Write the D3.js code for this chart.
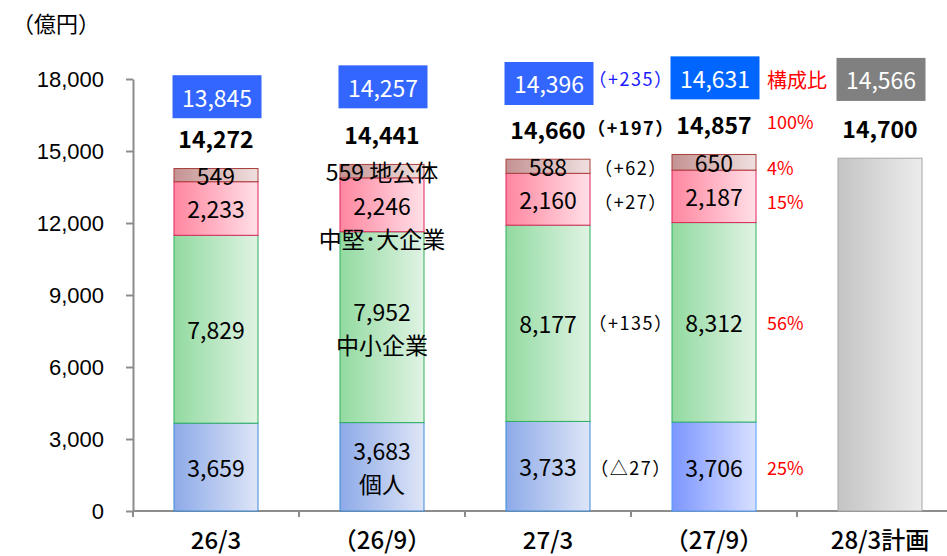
<!DOCTYPE html>
<meta charset="utf-8">
<style>
body { margin: 0; background: #fff; }
text { font-family: "Noto Sans CJK JP", "Noto Sans", sans-serif; }
.yaxis text { font-family: "Liberation Sans", Arial, sans-serif; font-size: 22px; fill: #000; }
.yaxis path, .yaxis line, .xaxis line { stroke: #8c8c8c; stroke-width: 2; }
</style>
<svg id="chart" width="947" height="556"></svg>
<script src="https://d3js.org/d3.v7.min.js"></script>
<script>

// data
const categories = ["26/3", "（26/9）", "27/3", "（27/9）", "28/3計画"];
const seriesNames = ["個人", "中小企業", "中堅･大企業", "地公体"];
const kojin  = [3659, 3683, 3733, 3706];
const chusho = [7829, 7952, 8177, 8312];
const chuken = [2233, 2246, 2160, 2187];
const chikou = [549, 559, 588, 650];
const totals = [14272, 14441, 14660, 14857, 14700];
const boxValues = [13845, 14257, 14396, 14631, 14566];
const yTicks = [0, 3000, 6000, 9000, 12000, 15000, 18000];

var rows = categories.slice(0, 4).map(function(c, i) {
  var r = { cat: c };
  r[seriesNames[0]] = kojin[i];
  r[seriesNames[1]] = chusho[i];
  r[seriesNames[2]] = chuken[i];
  r[seriesNames[3]] = chikou[i];
  return r;
});

var svg = d3.select("#chart");

var x = d3.scaleBand()
    .domain(categories)
    .range([133, 963])
    .paddingInner(0.494)
    .paddingOuter(0.247);

var y = d3.scaleLinear()
    .domain([0, 18000])
    .range([511, 79]);

var fmt = d3.format(",");

// gradients (left dark -> right light), last entry is the border
var fills = {
  s0:   ["rgb(141,170,232)", "rgb(222,229,247)", "#3b8ad6"],
  s1:   ["rgb(146,218,160)", "rgb(224,243,228)", "#2faf5c"],
  s2:   ["rgb(255,134,160)", "rgb(255,224,231)", "#e0245e"],
  s3:   ["rgb(196,146,146)", "rgb(240,224,224)", "#a8403c"],
  hl:   ["rgb(124,150,255)", "rgb(216,224,255)", "#4b9bff"],
  plan: ["rgb(196,196,196)", "rgb(236,236,236)", "#a6a6a6"]
};
var defs = svg.append("defs");
Object.keys(fills).forEach(function(k, i) {
  var g = defs.append("linearGradient").attr("id", "g" + i)
      .attr("x1", 0).attr("x2", 1).attr("y1", 0).attr("y2", 0);
  g.append("stop").attr("offset", "0%").attr("stop-color", fills[k][0]);
  g.append("stop").attr("offset", "100%").attr("stop-color", fills[k][1]);
  fills[k].id = "url(#g" + i + ")";
});

// axes
svg.append("g")
    .attr("class", "yaxis")
    .attr("transform", "translate(133,0)")
    .call(d3.axisLeft(y).tickValues(yTicks).tickFormat(fmt).tickSize(7).tickSizeOuter(0).tickPadding(22));

svg.append("line")
    .attr("x1", 133).attr("x2", 947).attr("y1", y(0)).attr("y2", y(0))
    .attr("stroke", "#8c8c8c").attr("stroke-width", 2);

var half = x.step() * x.paddingInner() / 2;
var bounds = categories.map(function(c) { return x(c) - half; });
svg.append("g").attr("class", "xaxis")
  .selectAll("line")
  .data(bounds)
  .enter().append("line")
    .attr("x1", function(d) { return d; })
    .attr("x2", function(d) { return d; })
    .attr("y1", y(0))
    .attr("y2", y(0) + 6);

svg.append("g")
  .selectAll("text")
  .data(categories)
  .enter().append("text")
    .attr("x", function(d) { return x(d) + x.bandwidth() / 2; })
    .attr("y", 549)
    .attr("text-anchor", "middle")
    .attr("font-size", 24)
    .attr("font-weight", 500)
    .text(function(d) { return d; });

svg.append("text")
    .attr("x", 12).attr("y", 32)
    .attr("font-size", 22)
    .text("（億円）");

// stacked bars
var stacked = d3.stack().keys(seriesNames)(rows);

var layer = svg.append("g")
  .selectAll("g")
  .data(stacked)
  .enter().append("g");

function style(d) {
  return (d.key === seriesNames[0] && d.data.cat === categories[3]) ? fills.hl : fills["s" + d.idx];
}

layer.selectAll("rect")
  .data(function(d, k) { return d.map(function(p) { p.key = d.key; p.idx = k; return p; }); })
  .enter().append("rect")
    .attr("x", function(d) { return x(d.data.cat); })
    .attr("width", x.bandwidth())
    .attr("y", function(d) { return y(d[1]); })
    .attr("height", function(d) { return y(d[0]) - y(d[1]); })
    .attr("fill", function(d) { return style(d).id; })
    .attr("stroke", function(d) { return style(d)[2]; })
    .attr("stroke-width", 1);

// plan bar
svg.append("rect")
    .attr("x", x(categories[4]))
    .attr("width", x.bandwidth())
    .attr("y", y(totals[4]))
    .attr("height", y(0) - y(totals[4]))
    .attr("fill", fills.plan.id)
    .attr("stroke", fills.plan[2]);

// segment labels (series names shown on the 26/9 column)
var namedCol = categories[1];
var nameShift = [0, 0, 17, 0];
layer.each(function(s, k) {
  d3.select(this).selectAll("text.v")
    .data(s)
    .enter().append("text")
      .attr("class", "v")
      .attr("text-anchor", "middle")
      .attr("dominant-baseline", "central")
      .attr("font-size", 23)
      .attr("x", function(d) { return x(d.data.cat) + x.bandwidth() / 2; })
      .attr("y", function(d) {
        var c = (y(d[0]) + y(d[1])) / 2;
        if (d.data.cat === namedCol && k < 3) return c - 16.5 + nameShift[k];
        return c;
      })
      .text(function(d) {
        var v = fmt(d[1] - d[0]);
        if (d.data.cat === namedCol && k === 3) return v + " " + s.key;
        return v;
      });
  if (k < 3) {
    var d = s[1];
    d3.select(this).append("text")
      .attr("text-anchor", "middle")
      .attr("dominant-baseline", "central")
      .attr("font-size", 23)
      .attr("x", x(namedCol) + x.bandwidth() / 2)
      .attr("y", (y(d[0]) + y(d[1])) / 2 + 16.5 + nameShift[k])
      .text(s.key);
  }
});

// totals
svg.append("g")
  .selectAll("text")
  .data(totals)
  .enter().append("text")
    .attr("x", function(d, i) { return x(categories[i]) + x.bandwidth() / 2; })
    .attr("y", function(d) { return y(d) - 30; })
    .attr("text-anchor", "middle")
    .attr("dominant-baseline", "central")
    .attr("font-size", 23)
    .attr("font-weight", "bold")
    .text(fmt);

// boxed values
var boxColor = ["#3366ff", "#3366ff", "#3366ff", "#0066ff", "#808080"];
var box = svg.append("g")
  .selectAll("g")
  .data(boxValues)
  .enter().append("g")
    .attr("transform", function(d, i) {
      return "translate(" + (x(categories[i]) + x.bandwidth() / 2 + 1) + "," + (y(d) - 82) + ")";
    });
box.append("rect")
    .attr("x", -44.5).attr("y", -21.5)
    .attr("width", 89).attr("height", 43)
    .attr("fill", function(d, i) { return boxColor[i]; });
box.append("text")
    .attr("text-anchor", "middle")
    .attr("dominant-baseline", "central")
    .attr("font-size", 23)
    .attr("fill", "#fff")
    .text(fmt);

// changes 27/3 -> 27/9 and composition
var last = 3, prev = 2;
var changeX = bounds[last];
var pctX = x(categories[last]) + x.bandwidth() + 11;
function diffText(v) { return v < 0 ? "（△" + (-v) + "）" : "（+" + v + "）"; }

var notes = svg.append("g");
stacked.forEach(function(s, k) {
  var d = s[last];
  var cy = (y(d[0]) + y(d[1])) / 2 + (k >= 2 ? 5 : 0);
  notes.append("text")
      .attr("x", changeX).attr("y", cy)
      .attr("text-anchor", "middle").attr("dominant-baseline", "central")
      .attr("font-size", 18).attr("letter-spacing", 1.5)
      .text(diffText((d[1] - d[0]) - (s[prev][1] - s[prev][0])));
  notes.append("text")
      .attr("x", pctX).attr("y", cy)
      .attr("dominant-baseline", "central")
      .attr("font-size", 18).attr("fill", "#ff0000")
      .text(Math.round((d[1] - d[0]) / totals[last] * 100) + "%");
});

notes.append("text")
    .attr("x", changeX).attr("y", y(totals[last]) - 27)
    .attr("text-anchor", "middle").attr("dominant-baseline", "central")
    .attr("font-size", 18).attr("font-weight", "bold").attr("letter-spacing", 1.5)
    .text(diffText(totals[last] - totals[prev]));
notes.append("text")
    .attr("x", pctX).attr("y", y(totals[last]) - 33)
    .attr("dominant-baseline", "central")
    .attr("font-size", 18).attr("fill", "#ff0000")
    .text("100%");

notes.append("text")
    .attr("x", changeX).attr("y", y(boxValues[last]) - 82)
    .attr("text-anchor", "middle").attr("dominant-baseline", "central")
    .attr("font-size", 18).attr("fill", "#1a1aff").attr("letter-spacing", 1.5)
    .text(diffText(boxValues[last] - boxValues[prev]));
notes.append("text")
    .attr("x", pctX).attr("y", y(boxValues[last]) - 80)
    .attr("dominant-baseline", "central")
    .attr("font-size", 20).attr("fill", "#ff0000")
    .text("構成比");

</script>
